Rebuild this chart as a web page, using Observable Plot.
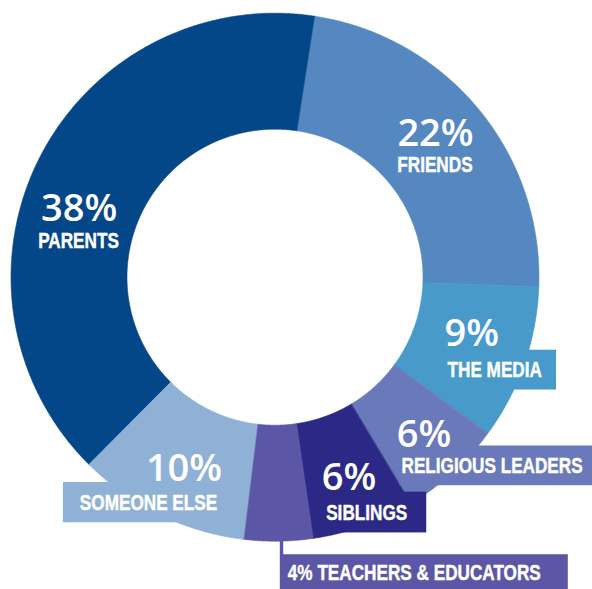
<!DOCTYPE html>
<html><head><meta charset="utf-8">
<script src="https://cdn.jsdelivr.net/npm/d3@7"></script>
<script src="https://cdn.jsdelivr.net/npm/@observablehq/plot@0.6"></script>
<style>
html,body{margin:0;padding:0;background:#fff;}
#chart svg{display:block;}
</style></head><body><div id="chart"></div>
<script>
// ---- data ----
const categories = ["Parents","Friends","The media","Religious leaders","Siblings","Teachers & educators","Someone else"];
const names = ["PARENTS","FRIENDS","THE MEDIA","RELIGIOUS LEADERS","SIBLINGS","TEACHERS & EDUCATORS","SOMEONE ELSE"];
const values = [38,22,9,6,6,4,10];

// ---- styles / layout ----
const colors = ["#044788","#5588c0","#479aca","#6a79ba","#2b2985","#5c56a6","#8fb1d5"];
const W = 592, H = 589, CX = 274.5, CY = 276.7, R_OUT = 264, R_IN = 148;
const START = -135.2 * Math.PI / 180;
const innerRatio = R_IN / R_OUT;
const labelRatio = (R_IN + R_OUT) / 2 / R_OUT;
const PCT_FONT = "'Open Sans', 'Liberation Sans', sans-serif";
const NAME_FONT = "'Liberation Sans', Arial, sans-serif";
const NAME_SIZE = 22, CAP = 0.716 * NAME_SIZE;
const SQUEEZE = 0.78; // condensed look for the category names
const labelLayout = [
  {pa:"middle", pdx:-12, pdy:37, na:"middle", ndx:-12.6, ndy:63.5},
  {pa:"middle", pdx:1.6, pdy:-0.6, na:"middle", ndx:1, ndy:25.4},
  {pa:"start", pdx:-25, pdy:0.5, na:"start", ndx:-22, ndy:31.5},
  {pa:"start", pdx:-17, pdy:18, na:"start", ndx:-12.3, ndy:43.8},
  {pa:"start", pdx:-22.5, pdy:19.2, na:"start", ndx:-18, ndy:49.2},
  {inline:true, na:"start", ndx:10.4, ndy:97.3},
  {pa:"end", pdx:37, pdy:18, na:"end", ndx:32, ndy:47.2}
];
const boxLayout = [
  null,
  null,
  {l:10, r:14, t:11, b:13},
  {l:2, r:12, t:12, b:12},
  {l:10, r:19, t:13, b:12},
  {l:8, r:27, t:10.5, b:30, leader:true},
  {l:17, r:10, t:12, b:12.5}
];

// ---- geometry from data ----
const arcs = d3.pie().sort(null).value(d => d).startAngle(START).endAngle(START + 2 * Math.PI)(values);
const pts = [];
arcs.forEach((a, i) => {
  const n = Math.max(2, Math.ceil((a.endAngle - a.startAngle) / 0.005));
  for (let j = 0; j <= n; j++) {
    const t = a.startAngle + (a.endAngle - a.startAngle) * j / n;
    pts.push({k: categories[i], c: colors[i], x: Math.sin(t), y: Math.cos(t)});
  }
  for (let j = n; j >= 0; j--) {
    const t = a.startAngle + (a.endAngle - a.startAngle) * j / n;
    pts.push({k: categories[i], c: colors[i], x: innerRatio * Math.sin(t), y: innerRatio * Math.cos(t)});
  }
});
const labels = arcs.map((a, i) => {
  const m = (a.startAngle + a.endAngle) / 2;
  return {i, x: labelRatio * Math.sin(m), y: labelRatio * Math.cos(m), pct: values[i] + "%", name: names[i]};
});

const nameStyle = {lineAnchor: "bottom", fill: "white", stroke: "white", strokeWidth: 0.45,
  fontSize: NAME_SIZE, fontWeight: "bold", fontFamily: NAME_FONT};
const textMarks = [];
labels.forEach(d => {
  const L = labelLayout[d.i];
  if (L.inline) {
    textMarks.push(Plot.text([d], {x: "x", y: "y", text: r => r.pct + " " + r.name, dx: L.ndx, dy: L.ndy,
      textAnchor: L.na, ...nameStyle}));
  } else {
    textMarks.push(Plot.text([d], {x: "x", y: "y", text: "pct", dx: L.pdx, dy: L.pdy,
      textAnchor: L.pa, lineAnchor: "bottom", fill: "white", fontSize: 38, fontWeight: 600, fontFamily: PCT_FONT}));
    textMarks.push(Plot.text([d], {x: "x", y: "y", text: "name", dx: L.ndx, dy: L.ndy,
      textAnchor: L.na, ...nameStyle}));
  }
});

const chart = Plot.plot({
  width: W, height: H, margin: 0,
  x: {domain: [-1, 1], range: [CX - R_OUT, CX + R_OUT], axis: null},
  y: {domain: [-1, 1], range: [CY + R_OUT, CY - R_OUT], axis: null},
  color: {type: "identity"},
  style: {background: "white", overflow: "hidden"},
  marks: [
    Plot.line(pts, {x: "x", y: "y", z: "k", fill: "c", stroke: "c", strokeWidth: 0.6, curve: "linear-closed"}),
    ...textMarks
  ]
});
document.getElementById("chart").appendChild(chart);

// ---- condense names, then size label boxes from the rendered text ----
const svg = chart;
const ns = "http://www.w3.org/2000/svg";
const nameTexts = [];
svg.querySelectorAll("text").forEach(t => {
  const s = t.textContent;
  const idx = names.findIndex(n => s === n || s.endsWith(" " + n));
  if (idx < 0) return;
  const w = t.getComputedTextLength();
  t.setAttribute("textLength", (w * SQUEEZE).toFixed(2));
  t.setAttribute("lengthAdjust", "spacingAndGlyphs");
  t.setAttribute("paint-order", "normal");
  nameTexts.push([t, idx]);
});
const sr = svg.getBoundingClientRect();
const firstText = svg.querySelector("g[aria-label='text']");
nameTexts.forEach(([t, idx]) => {
  const B = boxLayout[idx];
  if (!B) return;
  const r = t.getBoundingClientRect();
  const m = t.getCTM();
  const ly = (t.y && t.y.baseVal.length ? t.y.baseVal[0].value : 0);
  const lx = (t.x && t.x.baseVal.length ? t.x.baseVal[0].value : 0);
  const baseline = m.b * lx + m.d * ly + m.f;
  const left = r.left - sr.left - B.l, right = r.right - sr.left + B.r;
  const top = baseline - CAP - B.t, bottom = baseline + B.b;
  const rect = document.createElementNS(ns, "rect");
  rect.setAttribute("x", left); rect.setAttribute("y", top);
  rect.setAttribute("width", right - left); rect.setAttribute("height", bottom - top);
  rect.setAttribute("fill", colors[idx]);
  svg.insertBefore(rect, firstText);
  if (B.leader) {
    const lxp = left + 1.7;
    const edge = CY + Math.sqrt(R_OUT * R_OUT - (lxp - CX) * (lxp - CX));
    const ld = document.createElementNS(ns, "rect");
    ld.setAttribute("x", left); ld.setAttribute("y", edge - 4);
    ld.setAttribute("width", 3.4); ld.setAttribute("height", top - edge + 5);
    ld.setAttribute("fill", colors[idx]);
    svg.insertBefore(ld, firstText);
  }
});
</script></body></html>
